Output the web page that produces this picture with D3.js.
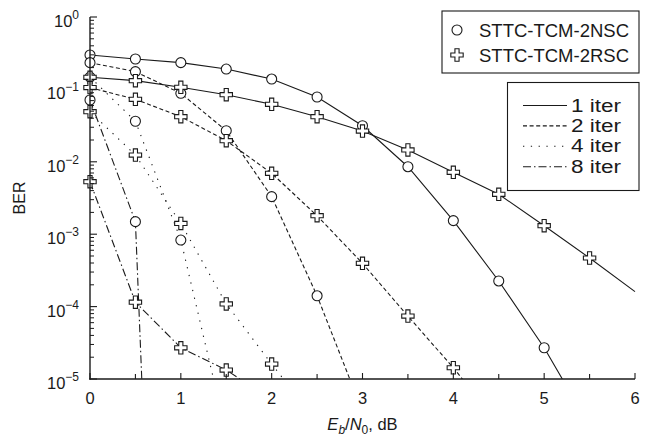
<!DOCTYPE html>
<html>
<head>
<meta charset="utf-8">
<script src="https://cdn.jsdelivr.net/npm/d3@7"></script>
<style>
  html, body { margin: 0; padding: 0; background: #fff; }
  svg { display: block; font-family: "Liberation Sans", Arial, Helvetica, sans-serif; }
</style>
</head>
<body>
<svg id="chart" width="649" height="438"></svg>
<script>
// ---------------- data ----------------
const ebn0 = [0, 0.5, 1, 1.5, 2, 2.5, 3, 3.5, 4, 4.5, 5, 5.5];

// STTC-TCM-2NSC (circles)
const nsc1 = [0.299, 0.263, 0.234, 0.191, 0.139, 0.0785, 0.0315, 0.00855, 0.00154, 0.000226, 2.7e-5];
const nsc1End = [5.2, 1e-5];
const nsc2 = [0.234, 0.176, 0.0883, 0.0269, 0.0033, 0.000141];
const nsc2End = [2.86, 1e-5];
const nsc4 = [0.148, 0.0363, 0.00083];
const nsc4End = [1.36, 1e-5];
const nsc8 = [0.0714, 0.00149];
const nsc8End = [0.57, 1e-5];

// STTC-TCM-2RSC (plus)
const rsc1 = [0.147, 0.132, 0.107, 0.0845, 0.0622, 0.042, 0.0266, 0.0146, 0.00716, 0.00356, 0.00131, 0.000469];
const rsc1End = [6, 0.000161];
const rsc2 = [0.106, 0.073, 0.042, 0.0196, 0.00694, 0.0018, 0.000396, 7.4e-5, 1.43e-5];
const rsc2End = [4.1, 1e-5];
const rsc4 = [0.0492, 0.0124, 0.00141, 0.000109, 1.61e-5];
const rsc4End = [2.13, 1e-5];
const rsc8 = [0.00531, 0.000115, 2.7e-5, 1.33e-5];
const rsc8End = [1.65, 1e-5];

const xTicks = [0, 1, 2, 3, 4, 5, 6];
const yTickExps = [0, -1, -2, -3, -4, -5];
const codeNames = ["STTC-TCM-2NSC", "STTC-TCM-2RSC"];
const iterNames = ["1 iter", "2 iter", "4 iter", "8 iter"];

// ---------------- layout ----------------
const svg = d3.select("#chart");
const L = 90, R = 635, T = 17, B = 379;
const x = d3.scaleLinear().domain([0, 6]).range([L, R]);
const y = d3.scaleLog().domain([1e-5, 1]).range([B, T]);
const ink = "#1a1a1a";

const dashes = ["none", "4,2.6", "1.3,6.5", "8,3,1.5,3"];

const series = [
  { vals: nsc1, end: nsc1End, mark: "circle", it: 0 },
  { vals: nsc2, end: nsc2End, mark: "circle", it: 1 },
  { vals: nsc4, end: nsc4End, mark: "circle", it: 2 },
  { vals: nsc8, end: nsc8End, mark: "circle", it: 3 },
  { vals: rsc1, end: rsc1End, mark: "plus", it: 0 },
  { vals: rsc2, end: rsc2End, mark: "plus", it: 1 },
  { vals: rsc4, end: rsc4End, mark: "plus", it: 2 },
  { vals: rsc8, end: rsc8End, mark: "plus", it: 3 },
];

svg.append("defs").append("clipPath").attr("id", "clip")
  .append("rect").attr("x", L).attr("y", T - 8).attr("width", R - L + 1).attr("height", B - T + 8);

const line = d3.line().x(d => x(d[0])).y(d => y(d[1]));
const gLines = svg.append("g").attr("clip-path", "url(#clip)");
series.forEach(s => {
  const pts = s.vals.map((v, i) => [ebn0[i], v]);
  pts.push(s.end);
  gLines.append("path").attr("d", line(pts))
    .attr("fill", "none").attr("stroke", ink).attr("stroke-width", 1.1)
    .attr("stroke-dasharray", dashes[s.it]);
});

const crossPath = d3.symbol().type(d3.symbolCross).size(85)();
function drawMarker(g, type, cx, cy) {
  if (type === "circle") {
    g.append("circle").attr("cx", cx).attr("cy", cy).attr("r", 5)
      .attr("fill", "#fff").attr("stroke", ink).attr("stroke-width", 1.1);
  } else {
    g.append("path").attr("d", crossPath).attr("transform", `translate(${cx},${cy})`)
      .attr("fill", "#fff").attr("stroke", ink).attr("stroke-width", 1.1);
  }
}
const gMarks = svg.append("g");
series.forEach(s => {
  s.vals.forEach((v, i) => drawMarker(gMarks, s.mark, x(ebn0[i]), y(v)));
});

// ---------------- axes ----------------
const gAx = svg.append("g").attr("stroke", ink).attr("stroke-width", 1.4);
gAx.append("line").attr("x1", L).attr("x2", L).attr("y1", T).attr("y2", B + 0.7);
gAx.append("line").attr("x1", L - 0.7).attr("x2", R).attr("y1", B).attr("y2", B);

// y ticks (major + minor), inward
yTickExps.forEach(e => {
  const v = Math.pow(10, e);
  svg.append("line").attr("x1", L).attr("x2", L + 7).attr("y1", y(v)).attr("y2", y(v))
    .attr("stroke", ink).attr("stroke-width", 1.1);
  if (e < 0) {
    for (let m = 2; m <= 9; m++) {
      const mv = m * v;
      svg.append("line").attr("x1", L).attr("x2", L + 4).attr("y1", y(mv)).attr("y2", y(mv))
        .attr("stroke", ink).attr("stroke-width", 1);
    }
  }
});
// x ticks inward
d3.range(0, 6.01, 0.5).forEach(t => {
  const major = Math.abs(t - Math.round(t)) < 1e-9;
  svg.append("line").attr("x1", x(t)).attr("x2", x(t)).attr("y1", B).attr("y2", B - (major ? 6 : 5))
    .attr("stroke", ink).attr("stroke-width", 1.1);
});

// y tick labels 10^e
yTickExps.forEach(e => {
  const yy = y(Math.pow(10, e));
  const t = svg.append("text").attr("x", 79).attr("y", yy + 10)
    .attr("text-anchor", "end").attr("fill", ink).attr("font-size", 16.5);
  t.append("tspan").text("10");
  t.append("tspan").attr("dy", -8).attr("font-size", 12).text(e === 0 ? "0" : "\u2212" + Math.abs(e));
});
// x tick labels
xTicks.forEach(v => {
  svg.append("text").attr("x", x(v)).attr("y", 404).attr("text-anchor", "middle")
    .attr("fill", ink).attr("font-size", 16.5).text(v);
});

// axis titles
svg.append("text").attr("transform", `translate(25,${(T + B) / 2}) rotate(-90)`)
  .attr("text-anchor", "middle").attr("fill", ink).attr("font-size", 16).text("BER");
const xt = svg.append("text").attr("x", (L + R) / 2).attr("y", 430)
  .attr("text-anchor", "middle").attr("fill", ink).attr("font-size", 16.5);
xt.append("tspan").attr("font-style", "italic").text("E");
xt.append("tspan").attr("font-style", "italic").attr("font-size", 12).attr("dy", 4).text("b");
xt.append("tspan").attr("dy", -4).text("/");
xt.append("tspan").attr("font-style", "italic").text("N");
xt.append("tspan").attr("font-size", 12).attr("dy", 4).text("0");
xt.append("tspan").attr("dy", -4).text(", dB");

// ---------------- legends ----------------
const lg1 = svg.append("g");
lg1.append("rect").attr("x", 442).attr("y", 11).attr("width", 197).attr("height", 62)
  .attr("fill", "#fff").attr("stroke", ink).attr("stroke-width", 1.1);
codeNames.forEach((n, i) => {
  const cy = 30 + i * 25;
  drawMarker(lg1, i === 0 ? "circle" : "plus", 457, cy);
  lg1.append("text").attr("x", 479).attr("y", cy + 6.5).attr("fill", ink)
    .attr("font-size", 17.5).attr("textLength", 150).attr("lengthAdjust", "spacingAndGlyphs").text(n);
});

const lg2 = svg.append("g");
lg2.append("rect").attr("x", 507.5).attr("y", 82.5).attr("width", 131.5).attr("height", 108)
  .attr("fill", "#fff").attr("stroke", ink).attr("stroke-width", 1.1);
iterNames.forEach((n, i) => {
  const cy = 105.5 + i * 20.4;
  lg2.append("line").attr("x1", 523).attr("x2", 567).attr("y1", cy).attr("y2", cy)
    .attr("stroke", ink).attr("stroke-width", 1.1).attr("stroke-dasharray", dashes[i]);
  lg2.append("text").attr("x", 571).attr("y", cy + 6).attr("fill", ink)
    .attr("font-size", 17.5).attr("textLength", 50).attr("lengthAdjust", "spacingAndGlyphs").text(n);
});
</script>
</body>
</html>
